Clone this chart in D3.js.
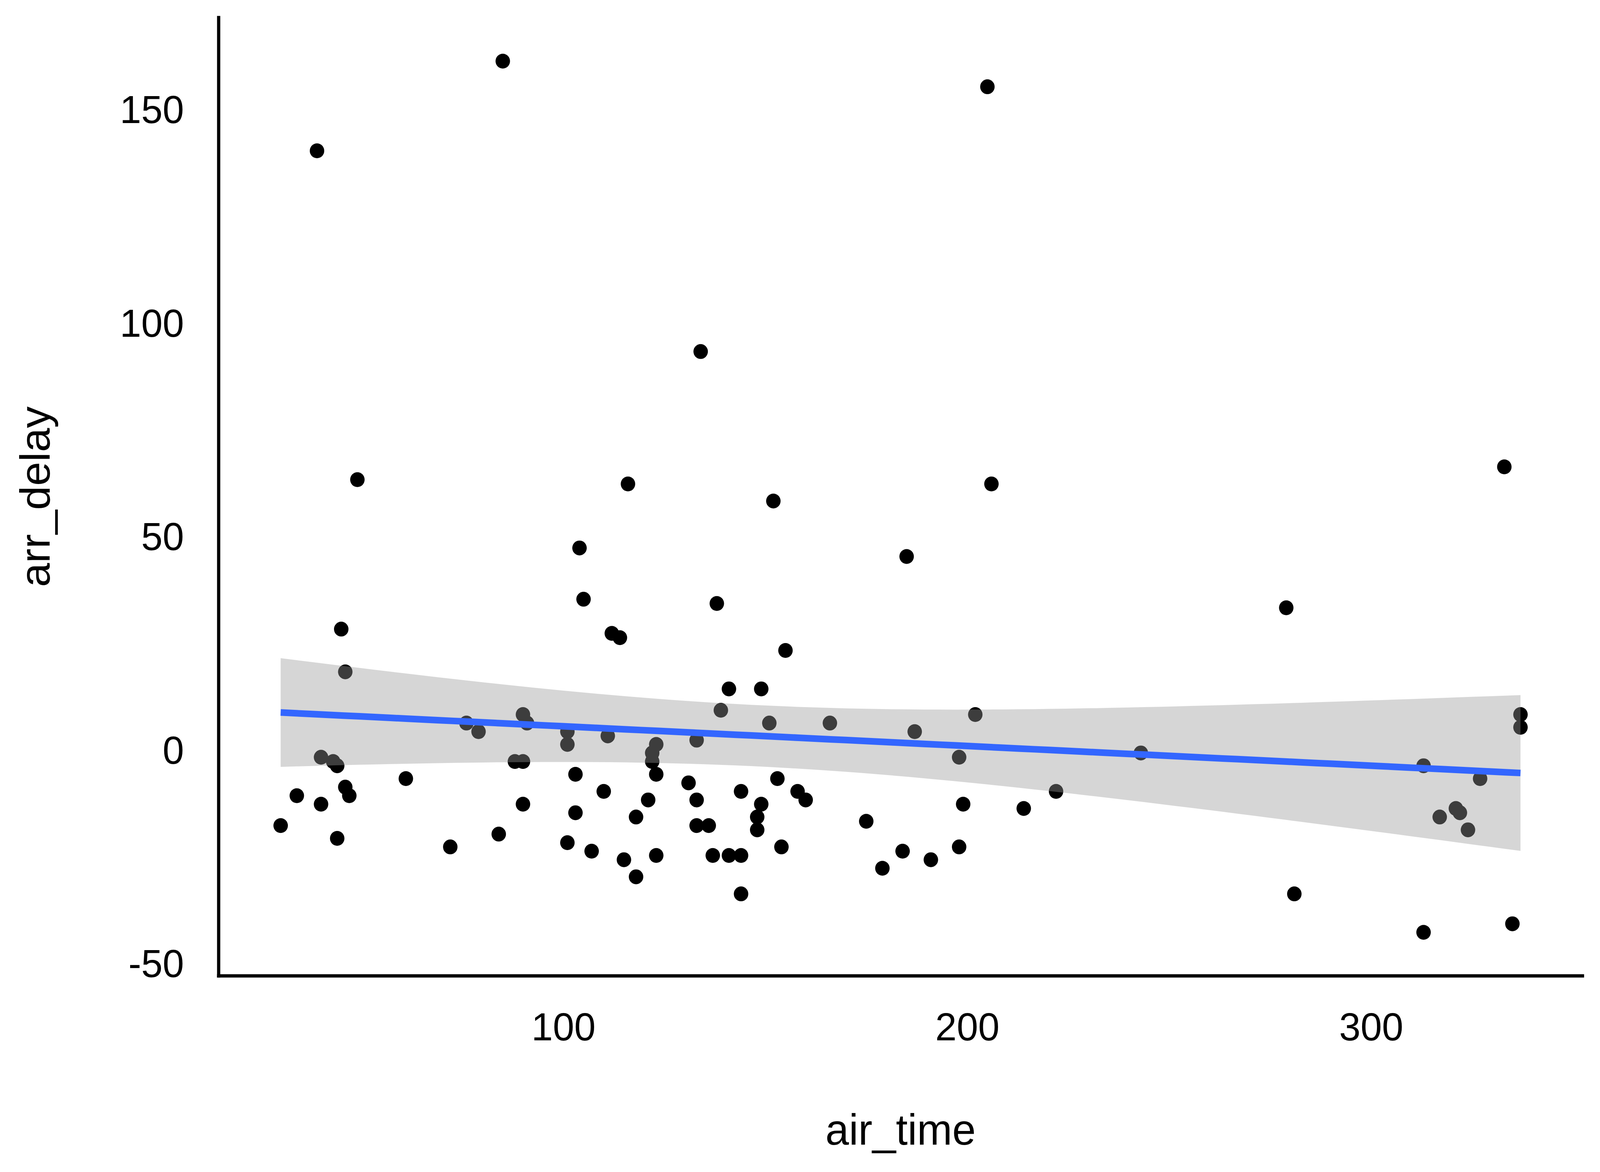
<!DOCTYPE html>
<html>
<head>
<meta charset="utf-8">
<script src="https://cdn.jsdelivr.net/npm/d3@7"></script>
<style>
  html, body { margin: 0; padding: 0; background: #ffffff; overflow: hidden; }
  svg { display: block; width: 100vw; height: 100vh; }
  text { font-family: "Liberation Sans", Arial, Helvetica, sans-serif; fill: #000; }
</style>
</head>
<body>
<script>
// ---- data ----
const airTime = [30,34,39,40,40,43,44,44,45,46,
                 46,47,49,61,72,76,79,84,85,88,
                 90,90,90,91,101,101,101,103,103,104,
                 105,107,110,111,112,114,115,116,118,118,
                 121,122,122,123,123,123,131,133,133,133,
                 134,136,137,138,139,141,141,144,144,144,
                 148,148,149,149,151,152,153,154,155,158,
                 160,166,175,179,184,185,187,191,198,198,
                 199,202,205,206,214,222,243,279,281,313,
                 313,317,321,322,324,327,333,335,337,337];
const arrDelay = [-17,-10,141,-1,-12,-2,-3,-20,29,19,
                  -8,-10,64,-6,-22,7,5,-19,162,-2,
                  9,-2,-12,7,5,2,-21,-5,-14,48,
                  36,-23,-9,4,28,27,-25,63,-15,-29,
                  -11,0,-2,2,-5,-24,-7,3,-11,-17,
                  94,-17,-24,35,10,15,-24,-9,-24,-33,
                  -15,-18,15,-12,7,59,-6,-22,24,-9,
                  -11,7,-16,-27,-23,46,5,-25,-1,-22,
                  -12,9,156,63,-13,-9,0,34,-33,-3,
                  -42,-15,-13,-14,-18,-6,67,-40,9,6];
const xTickValues = [100, 200, 300];
const yTickValues = [-50, 0, 50, 100, 150];
const xTitle = "air_time";
const yTitle = "arr_delay";

// ---- layout ----
const W = 4200, H = 3000;
const panel = { left: 574, right: 4154, top: 45, bottom: 2498 };

const svg = d3.select("body").append("svg")
  .attr("viewBox", `0 0 ${W} ${H}`)
  .attr("preserveAspectRatio", "none");
svg.append("rect").attr("width", W).attr("height", H).attr("fill", "#fff");

const data = airTime.map((x, i) => ({ x, y: arrDelay[i] }));

function expand(ext, f) {
  const d = (ext[1] - ext[0]) * f;
  return [ext[0] - d, ext[1] + d];
}
const xExt = d3.extent(airTime), yExt = d3.extent(arrDelay);
const x = d3.scaleLinear().domain(expand(xExt, 0.05)).range([panel.left, panel.right]);
const y = d3.scaleLinear().domain(expand(yExt, 0.05)).range([panel.bottom, panel.top]);

// ---- linear model with 95% confidence band (like geom_smooth(method = "lm")) ----
const n = data.length;
const mx = d3.mean(airTime), my = d3.mean(arrDelay);
let sxx = 0, sxy = 0;
data.forEach(d => { sxx += (d.x - mx) ** 2; sxy += (d.x - mx) * (d.y - my); });
const slope = sxy / sxx, intercept = my - slope * mx;
let sse = 0;
data.forEach(d => { sse += (d.y - (intercept + slope * d.x)) ** 2; });
const df = n - 2;
const sigma = Math.sqrt(sse / df);
const z = 1.959964;
const tq = z + (z ** 3 + z) / (4 * df) + (5 * z ** 5 + 16 * z ** 3 + 3 * z) / (96 * df * df);
const grid = d3.range(80).map(i => xExt[0] + (xExt[1] - xExt[0]) * i / 79);
const fit = grid.map(gx => {
  const yh = intercept + slope * gx;
  const se = sigma * Math.sqrt(1 / n + (gx - mx) ** 2 / sxx);
  return { x: gx, y: yh, lo: yh - tq * se, hi: yh + tq * se };
});

// ---- points ----
svg.append("g").selectAll("circle").data(data).join("circle")
  .attr("cx", d => x(d.x)).attr("cy", d => y(d.y))
  .attr("r", 19).attr("fill", "#000");

// ---- ribbon + line ----
svg.append("path").datum(fit)
  .attr("d", d3.area().x(d => x(d.x)).y0(d => y(d.lo)).y1(d => y(d.hi)))
  .attr("fill", "#999999").attr("fill-opacity", 0.4);
svg.append("path").datum(fit)
  .attr("d", d3.line().x(d => x(d.x)).y(d => y(d.y)))
  .attr("fill", "none").attr("stroke", "#3366FF").attr("stroke-width", 17);

// ---- axes ----
const fmt = v => String(v);
const xAxis = svg.append("g").attr("transform", `translate(0,${panel.bottom})`)
  .call(d3.axisBottom(x).tickValues(xTickValues).tickFormat(fmt).tickSize(0).tickSizeOuter(0));
xAxis.select(".domain").remove();
xAxis.selectAll("text")
  .attr("y", 165).attr("dy", 0)
  .attr("font-size", 101).attr("font-family", "Liberation Sans, Arial, sans-serif").attr("fill", "#000");

const yAxis = svg.append("g").attr("transform", `translate(${panel.left},0)`)
  .call(d3.axisLeft(y).tickValues(yTickValues).tickFormat(fmt).tickSize(0).tickSizeOuter(0));
yAxis.select(".domain").remove();
yAxis.selectAll("text")
  .attr("x", -91).attr("dy", 27)
  .attr("font-size", 101).attr("font-family", "Liberation Sans, Arial, sans-serif").attr("fill", "#000");

svg.append("line")
  .attr("x1", panel.left).attr("x2", panel.right)
  .attr("y1", panel.bottom).attr("y2", panel.bottom)
  .attr("stroke", "#000").attr("stroke-width", 8.5).attr("stroke-linecap", "square");
svg.append("line")
  .attr("x1", panel.left).attr("x2", panel.left)
  .attr("y1", panel.top).attr("y2", panel.bottom)
  .attr("stroke", "#000").attr("stroke-width", 8.5).attr("stroke-linecap", "square");

// ---- titles ----
svg.append("text")
  .attr("x", (panel.left + panel.right) / 2).attr("y", 2930)
  .attr("text-anchor", "middle").attr("font-size", 111)
  .text(xTitle);
svg.append("text")
  .attr("transform", `translate(130,${(panel.top + panel.bottom) / 2}) rotate(-90)`)
  .attr("text-anchor", "middle").attr("font-size", 111)
  .text(yTitle);
</script>
</body>
</html>
